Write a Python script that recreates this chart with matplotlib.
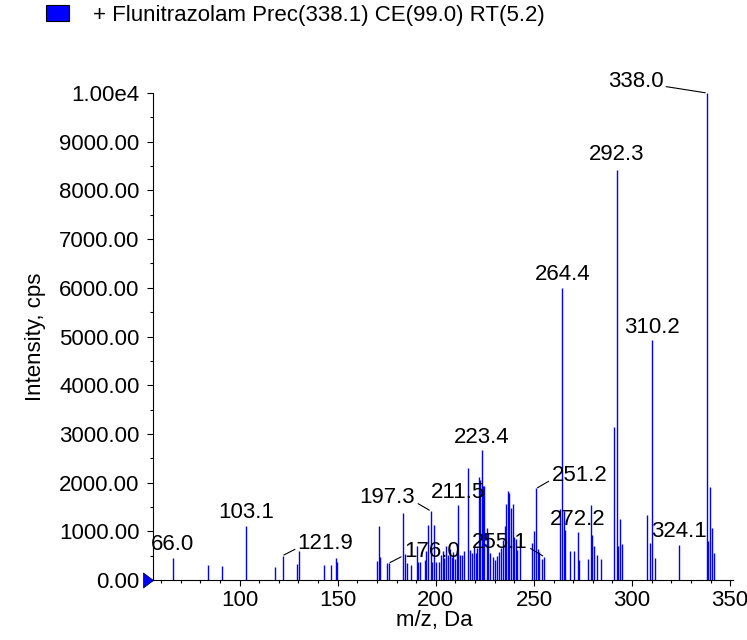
import matplotlib
matplotlib.use("Agg")
import matplotlib.pyplot as plt
from matplotlib.patches import Rectangle
from matplotlib.ticker import FixedLocator, MultipleLocator, FuncFormatter

plt.rcParams["font.family"] = ["Liberation Sans", "DejaVu Sans"]

TITLE = "+ Flunitrazolam Prec(338.1) CE(99.0) RT(5.2)"

# peak list (m/z, intensity in cps)
mz = [66.0, 84.0, 91.2, 103.1, 118.0, 121.9, 129.2, 130.1, 143.0, 146.6,
      149.1, 149.6, 170.0, 171.2, 171.8, 175.1, 176.0, 183.2, 184.1, 185.4,
      187.5, 190.2, 190.9, 192.1, 194.3, 195.1, 196.1, 197.3, 198.2, 199.0,
      200.2, 201.7, 202.6, 203.5, 204.4, 205.3, 206.2, 207.1, 208.0, 208.9,
      209.8, 210.7, 211.5, 212.4, 213.3, 214.5, 216.5, 217.5, 218.4, 219.4,
      220.3, 221.2, 222.1, 222.6, 223.4, 224.2, 224.8, 226.0, 226.8, 227.7,
      229.0, 230.1, 231.2, 232.1, 233.2, 234.1, 235.0, 236.0, 236.7, 237.4,
      238.1, 239.1, 240.0, 240.8, 241.6, 243.0, 249.1, 250.1, 251.2, 252.0,
      252.8, 254.0, 255.1, 263.4, 264.4, 265.1, 265.9, 268.3, 270.2, 272.2,
      273.1, 277.5, 279.2, 279.8, 280.7, 282.1, 284.3, 291.0, 292.3, 292.9,
      294.0, 295.0, 307.8, 308.9, 310.2, 311.8, 324.1, 338.0, 338.9, 339.7,
      340.5, 341.8]
intensity = [460, 300, 280, 1110, 275, 500, 330, 600, 300, 310,
             450, 365, 390, 1110, 480, 345, 345, 1385, 540, 350,
             300, 700, 360, 360, 410, 600, 1120, 1420, 360, 1130,
             360, 360, 520, 600, 450, 700, 520, 640, 480, 580,
             430, 620, 1540, 520, 520, 600, 2290, 620, 560, 700,
             560, 650, 2110, 2060, 2660, 1940, 1940, 1065, 960, 560,
             480, 420, 500, 580, 650, 820, 1100, 1560, 1835, 1790,
             1480, 1570, 890, 840, 620, 845, 760, 1000, 1880, 630,
             580, 430, 480, 1460, 5990, 1420, 1030, 600, 600, 990,
             410, 430, 1550, 930, 700, 515, 440, 3150, 8420, 700,
             1250, 740, 1340, 760, 4920, 460, 720, 10000, 800, 1910,
             1060, 560]

# labelled peaks and where their labels sit (offset in pixels from the peak top)
label_mz = [66.0, 103.1, 121.9, 176.0, 197.3, 211.5, 223.4, 251.2, 255.1,
            264.4, 272.2, 292.3, 310.2, 324.1, 338.0]
label_dx = [0, 0, 43, 43, -43, 0, 0, 43, -44, 0, 0, 0, 0, 0, -71]
label_dy = [13, 13, 12, 12, 13, 13, 13, 13, 14, 14, 12, 15, 13, 13, 11]

y_ticks = list(range(0, 10001, 1000))


def fmt_y(v, pos):
    if v >= 10000:
        return "1.00e4"
    return f"{v:.2f}"


fig = plt.figure(figsize=(7.47, 6.4), dpi=100)
ax = fig.add_axes([0.2044, 0.0937, 0.7770, 0.7610])

ax.vlines(mz, 0, intensity, colors="#0000ff", linewidth=1.0)

ax.set_xlim(55.7, 351.5)
ax.set_ylim(0, 10000)

ax.xaxis.set_major_locator(FixedLocator([100, 150, 200, 250, 300, 350]))
ax.xaxis.set_minor_locator(MultipleLocator(10))
ax.yaxis.set_major_locator(FixedLocator(y_ticks))
ax.yaxis.set_minor_locator(MultipleLocator(500))
ax.yaxis.set_major_formatter(FuncFormatter(fmt_y))

for s in ["top", "right"]:
    ax.spines[s].set_visible(False)
for s in ["left", "bottom"]:
    ax.spines[s].set_linewidth(0.8)

ax.tick_params(axis="both", which="major", direction="out", length=4.5,
               width=0.8, labelsize=16)
ax.tick_params(axis="both", which="minor", direction="out", length=2.5,
               width=0.8)
ax.tick_params(axis="y", which="major", pad=5)
ax.tick_params(axis="x", which="major", pad=3)

ax.set_xlabel("m/z, Da", fontsize=16)
ax.set_ylabel("Intensity, cps", fontsize=16)
ax.xaxis.set_label_coords(0.4856, -0.062)
ax.yaxis.set_label_coords(-0.183, 0.5)

# peak labels
lookup = dict(zip(mz, intensity))
for m, dx, dy in zip(label_mz, label_dx, label_dy):
    h = lookup[m]
    if dx == 0:
        ax.annotate(f"{m:.1f}", xy=(m, h), xytext=(0, dy),
                    textcoords="offset pixels", ha="center", va="center",
                    fontsize=16, annotation_clip=False)
    else:
        rel = (1.0, 0.3) if dx < 0 else (0.0, 0.3)
        ax.annotate(f"{m:.1f}", xy=(m, h), xytext=(dx, dy),
                    textcoords="offset pixels", ha="center", va="center",
                    fontsize=16, annotation_clip=False,
                    arrowprops=dict(arrowstyle="-", color="black", lw=0.8,
                                    relpos=rel, shrinkA=0, shrinkB=1))

# blue pointer at the origin
tri = [(0, 0), (-1, 0.75), (-1, -0.75), (0, 0)]
ax.plot([55.7], [0], marker=tri, markersize=14.4, color="#0000ff",
        markeredgecolor="black", markeredgewidth=0.5, clip_on=False)

# legend entry at the top
fig.patches.append(Rectangle((46 / 747, 1 - 21 / 640), 23 / 747, 16 / 640,
                             transform=fig.transFigure, facecolor="#0000ff",
                             edgecolor="black", linewidth=0.8))
fig.text(93 / 747, 1 - 16 / 640, TITLE, fontsize=16, ha="left", va="center")

fig.savefig("out.png", dpi=100)
